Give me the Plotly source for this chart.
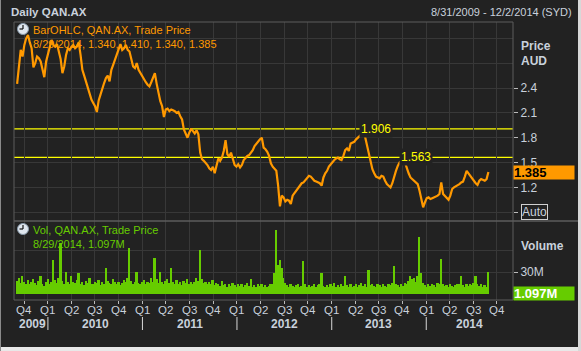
import plotly.graph_objects as go
import pandas as pd

# ---------------- data ----------------
week_end = pd.date_range("2009-09-04", periods=261, freq="7D")

price = [
    2.45, 2.62, 2.86, 2.78, 2.92, 3.00, 3.04, 2.95, 2.88, 2.65,
    2.70, 2.78, 2.76, 2.72, 2.62, 2.53, 2.72, 2.80, 2.88, 2.98,
    2.92, 2.90, 2.93, 2.84, 2.75, 2.58, 2.66, 2.80, 2.88, 2.86,
    2.90, 2.92, 2.88, 2.90, 2.95, 2.80, 2.62, 2.55, 2.47, 2.42,
    2.33, 2.26, 2.22, 2.18, 2.11, 2.25, 2.32, 2.40, 2.46, 2.52,
    2.55, 2.48, 2.62, 2.68, 2.74, 2.80, 2.88, 2.93, 2.86, 2.88,
    2.92, 2.86, 2.84, 2.76, 2.66, 2.64, 2.70, 2.62, 2.58, 2.55,
    2.50, 2.47, 2.44, 2.42, 2.47, 2.52, 2.58, 2.45, 2.34, 2.24,
    2.18, 2.05, 2.14, 2.15, 2.12, 2.14, 2.13, 2.12, 2.10, 2.11,
    2.06, 2.02, 1.90, 1.84, 1.80, 1.86, 1.91, 1.88, 1.85, 1.89,
    1.84, 1.62, 1.54, 1.52, 1.50, 1.47, 1.43, 1.41, 1.45, 1.37,
    1.46, 1.55, 1.52, 1.56, 1.64, 1.77, 1.60, 1.57, 1.62, 1.55,
    1.47, 1.45, 1.48, 1.44, 1.47, 1.53, 1.56, 1.58, 1.59, 1.62,
    1.65, 1.70, 1.73, 1.75, 1.78, 1.80, 1.68, 1.66, 1.63, 1.58,
    1.49, 1.45, 1.42, 1.40, 1.22, 0.97, 1.10, 1.08, 1.03, 1.05,
    1.04, 1.00, 1.10, 1.13, 1.15, 1.18, 1.22, 1.25, 1.26, 1.29,
    1.32, 1.34, 1.33, 1.30, 1.28, 1.27, 1.26, 1.25, 1.22, 1.32,
    1.37, 1.40, 1.45, 1.48, 1.51, 1.53, 1.55, 1.56, 1.54, 1.53,
    1.58, 1.65, 1.67, 1.64, 1.73, 1.74, 1.75, 1.78, 1.80, 1.82,
    1.84, 1.906, 1.80, 1.70, 1.62, 1.52, 1.42, 1.37, 1.33, 1.32,
    1.31, 1.34, 1.33, 1.28, 1.24, 1.22, 1.20, 1.25, 1.34, 1.40,
    1.46, 1.50, 1.52, 1.563, 1.50, 1.42, 1.37, 1.32, 1.30, 1.28,
    1.27, 1.24, 1.16, 1.04, 0.96, 1.02, 1.07, 1.08, 1.06, 1.07,
    1.08, 1.09, 1.10, 1.12, 1.26, 1.12, 1.10, 1.08, 1.05, 1.10,
    1.18, 1.20, 1.21, 1.22, 1.24, 1.26, 1.27, 1.33, 1.40, 1.37,
    1.34, 1.30, 1.27, 1.25, 1.23, 1.28, 1.30, 1.29, 1.28, 1.30,
    1.385,
]

volume_m = [
    18, 22, 15, 25, 16, 14, 19, 13, 17, 21,
    15, 12, 18, 24, 14, 11, 16, 20, 13, 17,
    46, 19, 15, 22, 70, 18, 14, 30, 16, 13,
    25, 17, 15, 19, 28, 14, 16, 12, 18, 15,
    22, 14, 13, 17, 15, 19, 12, 16, 14, 35,
    18, 15, 13, 20, 16, 14, 17, 12, 15, 19,
    16, 22, 63, 18, 14, 17, 30, 15, 13, 16,
    19, 14, 17, 15, 22, 16, 49, 20, 15, 30,
    17, 14, 18, 21, 15, 35, 16, 13, 19, 14,
    16, 12, 18, 15, 20, 13, 17, 14, 16, 22,
    18, 60, 21, 15, 17, 13, 16, 14, 19, 12,
    15, 13, 11, 18, 12, 14, 10, 13, 11, 15,
    12, 10, 14, 11, 13, 9, 12, 15, 11, 20,
    10, 12, 9, 14, 11, 13, 10, 12, 9, 11,
    13, 14, 28, 88, 40, 46, 35, 22, 15, 12,
    10, 13, 11, 9, 12, 14, 10, 11, 45, 13,
    10, 12, 9, 11, 14, 10, 12, 13, 29, 11,
    9, 12, 10, 13, 11, 15, 9, 12, 10, 14,
    11, 25, 12, 10, 13, 9, 11, 14, 10, 12,
    15, 11, 13, 10, 33, 12, 14, 11, 10, 13,
    12, 9, 14, 11, 10, 13, 12, 15, 38, 14,
    12, 10, 13, 11, 15, 14, 18, 25, 20, 22,
    16, 24, 78, 28, 15, 12, 10, 13, 11, 14,
    12, 10, 15, 13, 48, 14, 11, 12, 10, 13,
    11, 9, 12, 14, 13, 25, 12, 10, 13, 11,
    14, 12, 15, 25, 13, 11, 14, 10, 12, 9,
    30,
]

last_close = 1.385
last_volume_m = 1.097
levels = [1.906, 1.563]
price_ticks = [0.9, 1.2, 1.5, 1.8, 2.1, 2.4]
price_tick_text = ["", "1.2", "1.5", "1.8", "2.1", "2.4"]
price_minor_grid = [2.7, 3.0]
vol_ticks = [30e6]
vol_tick_text = ["30M"]
vol_minor_grid = [60e6]
quarter_ticks = pd.date_range("2009-10-01", "2014-10-01", freq="QS")
quarter_text = ["Q%d" % ((d.month - 1) // 3 + 1) for d in quarter_ticks]
years = [2009, 2010, 2011, 2012, 2013, 2014]
x_range = [pd.Timestamp("2009-08-23"), pd.Timestamp("2014-12-02")]
price_range = [0.794, 3.197]
vol_range = [-8.2e6, 99.6e6]

# ---------------- style ----------------
BG = "#222222"
GRID = "#383838"
FRAME = "#5c5c5c"
TXT = "#c9d1dc"
ORANGE = "#ff9900"
GREEN = "#66cc00"
YELLOW = "#ffff00"
FONT = "Liberation Sans"

W, H = 581, 351
L, R, T, B = 14, 68, 22, 51
PW, PH = W - L - R, H - T - B


def px(x):
    return (x - L) / PW


def py(y):
    return (H - B - y) / PH


split = py(221)

fig = go.Figure()
fig.add_trace(go.Scatter(
    x=week_end, y=price, mode="lines", line=dict(color=ORANGE, width=2.2),
    xaxis="x2", yaxis="y2", hoverinfo="skip"))
fig.add_trace(go.Bar(
    x=week_end, y=[v * 1e6 for v in volume_m], marker=dict(color=GREEN, line=dict(width=0)),
    xaxis="x", yaxis="y", hoverinfo="skip"))

shapes = []
annotations = []

# horizontal level lines with labels
for lv in levels:
    shapes.append(dict(type="line", xref="x2 domain", yref="y2", x0=0, x1=1, y0=lv, y1=lv,
                       line=dict(color=YELLOW, width=1.3), layer="below"))
    idx = price.index(lv)
    annotations.append(dict(xref="x2", yref="y2", x=week_end[idx], y=lv, text="%.3f" % lv,
                            showarrow=False, xanchor="left", yanchor="middle", xshift=-4,
                            font=dict(family=FONT, size=12, color=YELLOW),
                            bgcolor=BG, borderpad=1))

# panel frame and separator
shapes.append(dict(type="rect", xref="paper", yref="paper", x0=0, x1=1, y0=0, y1=1,
                   line=dict(color=FRAME, width=1), layer="above"))
shapes.append(dict(type="line", xref="paper", yref="paper", x0=0, x1=px(578), y0=split, y1=split,
                   line=dict(color=FRAME, width=1.5), layer="above"))

# window borders
shapes.append(dict(type="rect", xref="paper", yref="paper", x0=px(-2), x1=px(578), y0=py(347), y1=py(353),
                   fillcolor="#e8e8e8", line=dict(width=0)))
shapes.append(dict(type="rect", xref="paper", yref="paper", x0=px(578), x1=px(583), y0=py(353), y1=py(-2),
                   fillcolor="#d8d8d8", line=dict(width=0)))
shapes.append(dict(type="rect", xref="paper", yref="paper", x0=px(-2), x1=px(1), y0=py(353), y1=py(-2),
                   fillcolor="#8a8a8a", line=dict(width=0)))

# quarter labels (under the tick marks)
for d, q in zip(quarter_ticks, quarter_text):
    annotations.append(dict(xref="x", yref="paper", x=d, y=py(310), text=q,
                            showarrow=False, xanchor="center", yanchor="middle",
                            font=dict(family=FONT, size=11.5, color=TXT)))

# year separators and labels
for yr in years:
    start = max(pd.Timestamp(f"{yr}-01-01"), pd.Timestamp("2009-08-31"))
    end = min(pd.Timestamp(f"{yr + 1}-01-01"), x_range[1])
    if yr > years[0]:
        shapes.append(dict(type="line", xref="x", yref="paper", x0=pd.Timestamp(f"{yr}-01-01"),
                           x1=pd.Timestamp(f"{yr}-01-01"), y0=py(317), y1=py(330),
                           line=dict(color="#d8d8d8", width=1)))
    mid = start + (end - start) / 2
    annotations.append(dict(xref="x", yref="paper", x=mid, y=py(324), text="<b>%d</b>" % yr,
                            showarrow=False, xanchor="center", yanchor="middle",
                            font=dict(family=FONT, size=12, color=TXT)))


# clock icons
def clock(cx, cy):
    shapes.append(dict(type="circle", xref="paper", yref="paper", x0=px(cx - 5.5), x1=px(cx + 5.5),
                       y0=py(cy + 5.5), y1=py(cy - 5.5), fillcolor="#dfe6ee",
                       line=dict(color="#8899aa", width=1), layer="above"))
    shapes.append(dict(type="line", xref="paper", yref="paper", x0=px(cx), x1=px(cx), y0=py(cy), y1=py(cy - 4),
                       line=dict(color="#111111", width=1.2), layer="above"))
    shapes.append(dict(type="line", xref="paper", yref="paper", x0=px(cx), x1=px(cx - 3.5), y0=py(cy), y1=py(cy),
                       line=dict(color="#111111", width=1.2), layer="above"))


clock(23, 29)
clock(23, 229)


def text(x, y, s, color=TXT, size=11, anchor="left", bold=False):
    annotations.append(dict(xref="paper", yref="paper", x=px(x), y=py(y),
                            text=("<b>%s</b>" % s) if bold else s, showarrow=False,
                            xanchor=anchor, yanchor="middle",
                            font=dict(family=FONT, size=size, color=color)))


text(9, 12, "Daily QAN.AX", bold=True, size=11.5)
text(574, 12, "8/31/2009 - 12/2/2014 (SYD)", anchor="right")
text(31, 30, "BarOHLC, QAN.AX, Trade Price", color=ORANGE, size=11)
text(31, 44, "8/29/2014, 1.340, 1.410, 1.340, 1.385", color=ORANGE, size=11)
text(31, 230, "Vol, QAN.AX, Trade Price", color=GREEN, size=11)
text(31, 244, "8/29/2014, %.3fM" % last_volume_m, color=GREEN, size=11)
text(519, 46, "Price", bold=True, size=12)
text(519, 61, "AUD", bold=True, size=12)
text(519, 246, "Volume", bold=True, size=12)

# value boxes
annotations.append(dict(xref="paper", yref="y2", x=1, y=last_close, text="<b>%.3f</b>" % last_close,
                        showarrow=False, xanchor="left", yanchor="middle", align="left",
                        width=60, height=13, bgcolor=ORANGE, borderpad=0,
                        font=dict(family=FONT, size=13, color="#000000")))
annotations.append(dict(xref="paper", yref="y", x=1, y=last_volume_m * 1e6,
                        text="<b>%.3fM</b>" % last_volume_m,
                        showarrow=False, xanchor="left", yanchor="middle", align="left",
                        width=60, height=13, bgcolor=GREEN, borderpad=0,
                        font=dict(family=FONT, size=13, color="#ffffff")))
annotations.append(dict(xref="paper", yref="y2", x=px(521), y=price_ticks[0], text="Auto",
                        showarrow=False, xanchor="left", yanchor="middle",
                        bordercolor="#d0d0d0", borderwidth=1, borderpad=0,
                        font=dict(family=FONT, size=12, color=TXT)))

axis_common = dict(showline=False, zeroline=False, gridcolor=GRID, gridwidth=1)

fig.update_layout(
    width=W, height=H, margin=dict(l=L, r=R, t=T, b=B),
    paper_bgcolor=BG, plot_bgcolor=BG, showlegend=False, bargap=0,
    font=dict(family=FONT, size=11, color=TXT),
    xaxis=dict(domain=[0, 1], range=x_range, type="date", tickmode="array", tickvals=quarter_ticks,
               showticklabels=False, ticks="outside", ticklen=3, tickcolor="#bbbbbb",
               showgrid=True, anchor="y", **axis_common),
    xaxis2=dict(domain=[0, 1], range=x_range, type="date", tickmode="array", tickvals=quarter_ticks,
                showticklabels=False, showgrid=True, anchor="y2", matches="x", **axis_common),
    yaxis=dict(domain=[0, split], range=vol_range, side="right", tickmode="array", tickvals=vol_ticks,
               ticktext=vol_tick_text, ticks="outside", ticklen=4, tickcolor="#bbbbbb",
               showgrid=True, anchor="x",
               minor=dict(tickmode="array", tickvals=vol_minor_grid, showgrid=True, gridcolor=GRID, ticks=""),
               tickfont=dict(family=FONT, size=12, color=TXT), **axis_common),
    yaxis2=dict(domain=[split, 1], range=price_range, side="right", tickmode="array", tickvals=price_ticks,
                ticktext=price_tick_text, ticks="outside", ticklen=4, tickcolor="#bbbbbb",
                showgrid=True, anchor="x2",
                minor=dict(tickmode="array", tickvals=price_minor_grid, showgrid=True, gridcolor=GRID, ticks=""),
                tickfont=dict(family=FONT, size=12, color=TXT), **axis_common),
    shapes=shapes, annotations=annotations,
)

fig.write_html("out.html", config={"displayModeBar": False})
